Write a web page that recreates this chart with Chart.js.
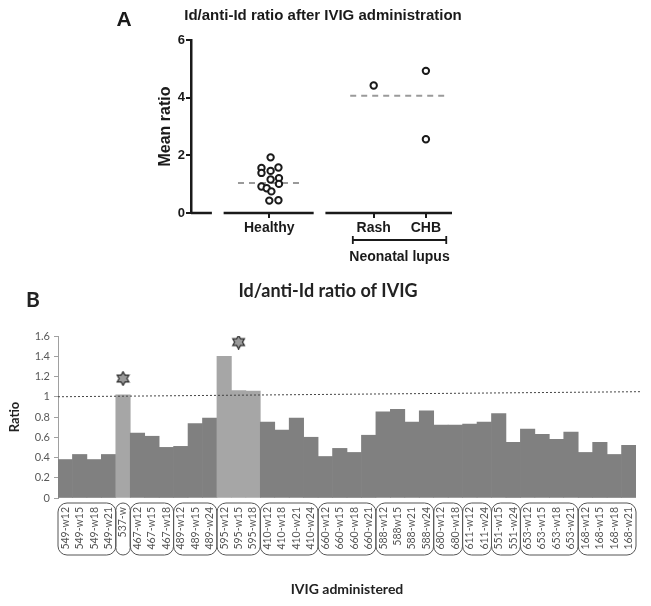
<!DOCTYPE html>
<html>
<head>
<meta charset="utf-8">
<script src="https://cdn.jsdelivr.net/npm/chart.js@4.4.1/dist/chart.umd.min.js"></script>
<style>
  html, body { margin: 0; padding: 0; background: #fff; }
  #wrap { position: relative; width: 651px; height: 606px; }
  #cA { position: absolute; left: 0; top: 0; }
  #cB { position: absolute; left: 0; top: 275px; }
</style>
</head>
<body>
<div id="wrap">
  <canvas id="cA" width="651" height="275"></canvas>
  <canvas id="cB" width="651" height="331"></canvas>
</div>
<script>
// ── Panel A data ─────────────────────────────────────────
const GROUPS_A = ['Healthy', 'Rash', 'CHB'];
const GROUP_X_A = [3, 7, 9];
const HEALTHY_X = [3.05, 2.7, 2.7, 3.05, 3.35, 3.05, 3.37, 3.37, 2.7, 2.9, 3.08, 3.0, 3.35];
const HEALTHY_Y = [1.93, 1.56, 1.39, 1.46, 1.58, 1.16, 1.21, 1.01, 0.92, 0.86, 0.75, 0.43, 0.44];
const RASH_Y = [4.42];
const CHB_Y = [4.93, 2.56];
const MEAN_HEALTHY = 1.04;
const MEAN_LUPUS = 4.07;
const MEAN_HEALTHY_SPAN = [1.8, 4.25];
const MEAN_LUPUS_SPAN = [6.1, 9.7];
const Y_MAX_A = 6;

// ── Panel B data ─────────────────────────────────────────
const IVIG_LABELS = ['549-w12', '549-w15', '549-w18', '549-w21', '537-w', '467-w12', '467-w15', '467-w18',
  '489-w12', '489-w15', '489-w24', '595-w12', '595-w15', '595-w18', '410-w12', '410-w18', '410-w21', '410-w24',
  '660-w12', '660-w15', '660-w18', '660-w21', '588-w12', '588w15', '588-w21', '588-w24', '680-w12', '680-w18',
  '611-w12', '611-w24', '551-w15', '551-w24', '653-w12', '653-w15', '653-w18', '653-w21',
  '168-w12', '168-w15', '168-w18', '168-w21'];
const IVIG_RATIO = [0.38, 0.43, 0.38, 0.43, 1.02, 0.64, 0.61, 0.50,
  0.51, 0.735, 0.79, 1.40, 1.06, 1.055, 0.75, 0.67, 0.79, 0.60,
  0.41, 0.49, 0.45, 0.62, 0.85, 0.875, 0.75, 0.86, 0.72, 0.72,
  0.73, 0.75, 0.835, 0.55, 0.68, 0.63, 0.58, 0.65,
  0.45, 0.55, 0.43, 0.52];
const HIGHLIGHT_DONORS = ['537', '595'];
const STAR_AT = ['537-w', '595-w15'];
const STAR_Y = [1.18, 1.54];
const REF_LINE_Y = [1.0, 1.05]; // dashed reference line, left end / right end
const Y_MAX_B = 1.6;

const donorOf = (lbl) => lbl.slice(0, 3);

// ── Panel A ──────────────────────────────────────────────
const FONT_A = "'Liberation Sans', Arial, sans-serif";
const circle = { pointStyle: 'circle', pointRadius: 3.2, pointBorderWidth: 2, borderColor: '#1a1a1a', backgroundColor: '#fff', showLine: false };

const panelAExtras = {
  id: 'panelAExtras',
  afterDraw(chart) {
    const { ctx, chartArea: a, scales: { x } } = chart;
    ctx.save();
    // broken x axis (Prism style)
    ctx.strokeStyle = '#1a1a1a'; ctx.lineWidth = 2.5;
    [[0, 0.8], [1.25, 4.7], [5.15, 10]].forEach(([s, e]) => {
      ctx.beginPath();
      ctx.moveTo(x.getPixelForValue(s), a.bottom);
      ctx.lineTo(x.getPixelForValue(e), a.bottom);
      ctx.stroke();
    });
    // neonatal lupus bracket
    const l = x.getPixelForValue(6.2), r = x.getPixelForValue(9.78), y = a.bottom + 27;
    ctx.lineWidth = 1.8;
    ctx.beginPath();
    ctx.moveTo(l, y); ctx.lineTo(r, y);
    ctx.moveTo(l, y - 4); ctx.lineTo(l, y + 4);
    ctx.moveTo(r, y - 4); ctx.lineTo(r, y + 4);
    ctx.stroke();
    ctx.fillStyle = '#1a1a1a';
    ctx.textAlign = 'center'; ctx.textBaseline = 'middle';
    ctx.font = 'bold 14px ' + FONT_A;
    ctx.fillText('Neonatal lupus', (l + r) / 2, a.bottom + 44);
    // title + panel letter
    ctx.font = 'bold 15px ' + FONT_A;
    ctx.fillText('Id/anti-Id ratio after IVIG administration', 323, 16);
    ctx.font = 'bold 21px ' + FONT_A;
    ctx.fillText('A', 124, 20);
    ctx.restore();
  }
};

new Chart(document.getElementById('cA'), {
  type: 'scatter',
  data: {
    datasets: [
      { label: 'Healthy', data: HEALTHY_X.map((x, i) => ({ x, y: HEALTHY_Y[i] })), ...circle },
      { label: 'Rash', data: RASH_Y.map((y) => ({ x: GROUP_X_A[1], y })), ...circle },
      { label: 'CHB', data: CHB_Y.map((y) => ({ x: GROUP_X_A[2], y })), ...circle },
      { type: 'line', label: 'mean healthy', data: MEAN_HEALTHY_SPAN.map((x) => ({ x, y: MEAN_HEALTHY })),
        borderColor: '#9a9a9a', borderWidth: 2, borderDash: [6, 5], pointRadius: 0 },
      { type: 'line', label: 'mean lupus', data: MEAN_LUPUS_SPAN.map((x) => ({ x, y: MEAN_LUPUS })),
        borderColor: '#9a9a9a', borderWidth: 2, borderDash: [6, 5], pointRadius: 0 },
    ],
  },
  options: {
    responsive: false, animation: false,
    layout: { padding: { left: 150, right: 199, top: 40, bottom: 0 } },
    plugins: { legend: { display: false }, tooltip: { enabled: false } },
    scales: {
      x: {
        type: 'linear', min: 0, max: 10,
        afterBuildTicks: (s) => { s.ticks = GROUP_X_A.map((v) => ({ value: v })); },
        afterFit: (s) => { s.height = 62; },
        ticks: { callback: (v) => GROUPS_A[GROUP_X_A.indexOf(v)], color: '#1a1a1a', padding: 2,
          font: { family: FONT_A, size: 14, weight: 'bold' } },
        grid: { drawOnChartArea: false, tickLength: 5, lineWidth: 2, color: '#1a1a1a' },
        border: { display: false },
      },
      y: {
        min: 0, max: Y_MAX_A,
        afterFit: (s) => { s.width = 41; },
        ticks: { stepSize: 2, color: '#1a1a1a', padding: 1, font: { family: FONT_A, size: 13, weight: 'bold' } },
        grid: { drawOnChartArea: false, tickLength: 5, lineWidth: 2, color: '#1a1a1a' },
        border: { color: '#1a1a1a', width: 2.5 },
        title: { display: true, text: 'Mean ratio', color: '#1a1a1a', padding: { top: 6 },
          font: { family: FONT_A, size: 16, weight: 'bold' } },
      },
    },
  },
  plugins: [panelAExtras],
});

// ── Panel B ──────────────────────────────────────────────
const FONT_B = "Lato, 'Open Sans', sans-serif";

// six-pointed star marker
const starImg = document.createElement('canvas');
starImg.width = 15; starImg.height = 15;
(function () {
  const c = starImg.getContext('2d');
  const R = 6.8, r = R / Math.sqrt(3), cx = 7.5, cy = 7.5;
  c.beginPath();
  for (let i = 0; i < 12; i++) {
    const ang = -Math.PI / 2 + i * Math.PI / 6;
    const rad = i % 2 === 0 ? R : r;
    const px = cx + rad * Math.cos(ang), py = cy + rad * Math.sin(ang);
    if (i === 0) c.moveTo(px, py); else c.lineTo(px, py);
  }
  c.closePath();
  c.fillStyle = '#9a9a9a'; c.fill();
  c.strokeStyle = '#2a2a2a'; c.lineWidth = 1.2; c.stroke();
})();

const panelBExtras = {
  id: 'panelBExtras',
  afterDatasetsDraw(chart) {
    // dashed reference line over the bars, running a little past the plot's right edge
    const { ctx, chartArea: a, scales: { y } } = chart;
    ctx.save();
    ctx.strokeStyle = '#444'; ctx.lineWidth = 1; ctx.setLineDash([2, 2]);
    ctx.beginPath();
    ctx.moveTo(a.left, y.getPixelForValue(REF_LINE_Y[0]));
    ctx.lineTo(a.right + 5, y.getPixelForValue(REF_LINE_Y[1]));
    ctx.stroke();
    ctx.restore();
  },
  afterDraw(chart) {
    const { ctx, chartArea: a, scales: { x } } = chart;
    const half = (x.getPixelForValue(1) - x.getPixelForValue(0)) / 2;
    ctx.save();
    // rounded brackets grouping each donor
    ctx.strokeStyle = '#555'; ctx.lineWidth = 1;
    let start = 0;
    for (let i = 1; i <= IVIG_LABELS.length; i++) {
      if (i === IVIG_LABELS.length || donorOf(IVIG_LABELS[i]) !== donorOf(IVIG_LABELS[start])) {
        const l = x.getPixelForValue(start) - half, r = x.getPixelForValue(i - 1) + half;
        ctx.beginPath();
        ctx.roundRect(l, a.bottom + 5, r - l, 52, 9);
        ctx.stroke();
        start = i;
      }
    }
    ctx.fillStyle = '#222';
    ctx.textAlign = 'center'; ctx.textBaseline = 'middle';
    ctx.font = 'bold 18px ' + FONT_B;
    ctx.fillText('Id/anti-Id ratio of IVIG', 328, 16);
    ctx.font = 'bold 21px ' + FONT_B;
    ctx.fillText('B', 33, 25);
    ctx.restore();
  }
};

new Chart(document.getElementById('cB'), {
  type: 'bar',
  data: {
    labels: IVIG_LABELS,
    datasets: [
      { label: 'Ratio', data: IVIG_RATIO, order: 1,
        backgroundColor: IVIG_LABELS.map((l) => HIGHLIGHT_DONORS.includes(donorOf(l)) ? '#a6a6a6' : '#808080'),
        borderWidth: 0, barPercentage: 1, categoryPercentage: 1 },
      { type: 'line', label: 'star', data: STAR_AT.map((x, i) => ({ x, y: STAR_Y[i] })),
        showLine: false, pointStyle: starImg, pointRadius: 7, order: 0 },
    ],
  },
  options: {
    responsive: false, animation: false,
    datasets: { bar: { barPercentage: 1, categoryPercentage: 1 } },
    layout: { padding: { left: 0, right: 15, top: 61, bottom: 0 } },
    plugins: { legend: { display: false }, tooltip: { enabled: false } },
    scales: {
      x: {
        afterFit: (s) => { s.height = 108; },
        ticks: { minRotation: 90, maxRotation: 90, autoSkip: false, color: '#555', padding: 9,
          font: { family: FONT_B, size: 10.5 } },
        grid: { display: false, drawTicks: false },
        border: { display: false },
        title: { display: true, text: 'IVIG administered', color: '#222', padding: { top: 0, bottom: 8 },
          font: { family: FONT_B, size: 14, weight: 'bold' } },
      },
      y: {
        min: 0, max: Y_MAX_B,
        afterFit: (s) => { s.width = 58; },
        ticks: { stepSize: 0.2, color: '#595959', padding: 4, font: { family: FONT_B, size: 11 },
          callback: (v) => String(Number(v.toFixed(1))) },
        grid: { drawOnChartArea: false, tickLength: 4, color: '#a0a0a0' },
        border: { color: '#a0a0a0' },
        title: { display: true, text: 'Ratio', color: '#222', padding: { top: 7 },
          font: { family: FONT_B, size: 13, weight: 'bold' } },
      },
    },
  },
  plugins: [panelBExtras],
});
</script>
</body>
</html>
